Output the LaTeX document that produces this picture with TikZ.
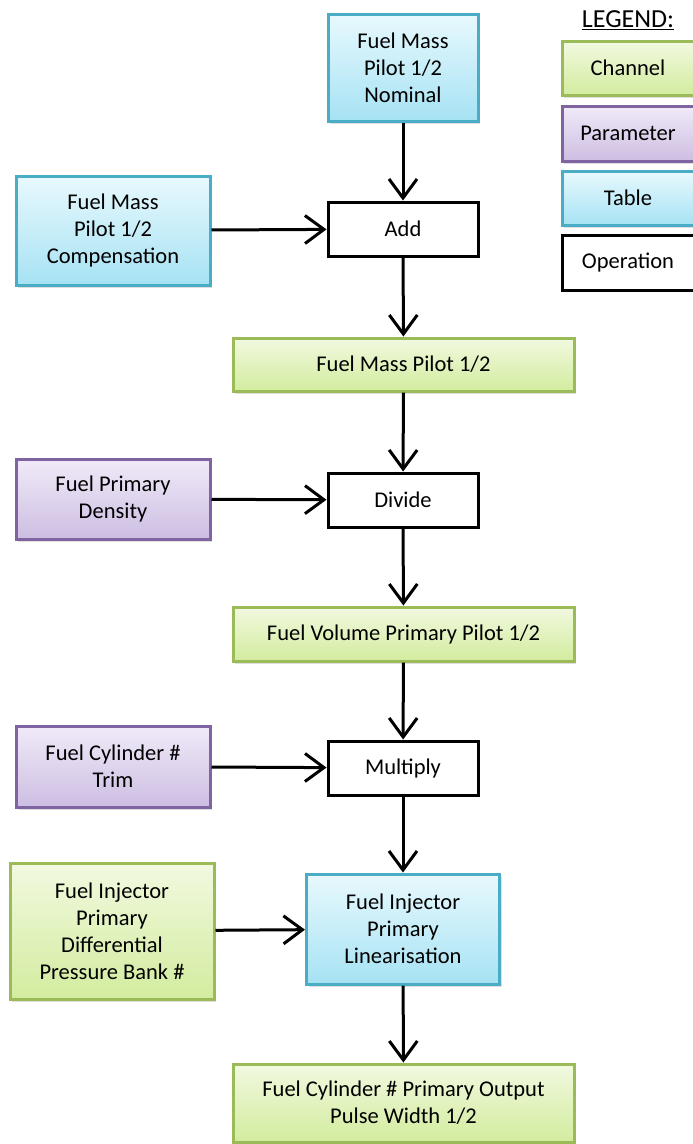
\documentclass[tikz,border=0pt]{standalone}
\usepackage{fontspec}
\setmainfont{Carlito}
\usetikzlibrary{arrows.meta, shadows}
\tikzset{>={Straight Barb[length=19pt,width=28pt,line width=3pt]}}
\tikzset{
  box/.style={rectangle, inner sep=0pt, align=center, line width=3pt,
    font=\fontsize{22.5}{27}\selectfont},
  channel/.style={box, draw={rgb,255:red,155;green,187;blue,89},
    top color={rgb,255:red,242;green,249;blue,224}, bottom color={rgb,255:red,210;green,236;blue,158},
    drop shadow={opacity=0.25,shadow xshift=2pt,shadow yshift=-3pt}},
  param/.style={box, draw={rgb,255:red,128;green,100;blue,162},
    top color={rgb,255:red,240;green,234;blue,248}, bottom color={rgb,255:red,205;green,190;blue,226},
    drop shadow={opacity=0.25,shadow xshift=2pt,shadow yshift=-3pt}},
  table/.style={box, draw={rgb,255:red,75;green,172;blue,198},
    top color={rgb,255:red,232;green,249;blue,253}, bottom color={rgb,255:red,166;green,226;blue,244},
    drop shadow={opacity=0.25,shadow xshift=2pt,shadow yshift=-3pt}},
  oper/.style={box, draw=black, fill=white},
  flow/.style={->, line width=3pt}
}

\begin{document}
\begin{tikzpicture}[x=1pt,y=-1pt]
    \useasboundingbox (0,0) rectangle (693,1144);
    \node[table, minimum width=150pt, minimum height=107pt] (nominal) at (403,67.5) {Fuel Mass\\Pilot 1/2\\Nominal};
    \node[oper, minimum width=150pt, minimum height=54pt] (add) at (403,229) {Add};
    \node[table, minimum width=194pt, minimum height=109pt] (comp) at (113,230.5) {Fuel Mass\\Pilot 1/2\\Compensation};
    \node[channel, minimum width=341pt, minimum height=53pt] (fmp) at (403.5,364.5) {Fuel Mass Pilot 1/2};
    \node[oper, minimum width=150pt, minimum height=54pt] (divide) at (403,500) {Divide};
    \node[param, minimum width=194pt, minimum height=80pt] (density) at (113,499) {Fuel Primary\\Density};
    \node[channel, minimum width=341pt, minimum height=54pt] (fvp) at (403.5,634) {Fuel Volume Primary Pilot 1/2};
    \node[oper, minimum width=150pt, minimum height=54pt] (multiply) at (403,768) {Multiply};
    \node[param, minimum width=194pt, minimum height=81pt] (trim) at (113,766.5) {Fuel Cylinder \#\\Trim};
    \node[table, minimum width=193pt, minimum height=110pt] (lin) at (403,929) {Fuel Injector\\Primary\\Linearisation};
    \node[channel, minimum width=204pt, minimum height=136pt] (pressure) at (112,931) {Fuel Injector\\Primary\\Differential\\Pressure Bank \#};
    \node[channel, minimum width=341pt, minimum height=78pt] (output) at (403.5,1103) {Fuel Cylinder \# Primary Output\\Pulse Width 1/2};
    \draw[flow] (nominal) -- (add);
    \draw[flow] (comp) -- (add);
    \draw[flow] (add) -- (fmp);
    \draw[flow] (fmp) -- (divide);
    \draw[flow] (density) -- (divide);
    \draw[flow] (divide) -- (fvp);
    \draw[flow] (fvp) -- (multiply);
    \draw[flow] (trim) -- (multiply);
    \draw[flow] (multiply) -- (lin);
    \draw[flow] (pressure) -- (lin);
    \draw[flow] (lin) -- (output);
    \node[font=\fontsize{26}{30}\selectfont] (legend) at (628,20) {\underline{LEGEND:}};
    \node[channel, minimum width=132pt, minimum height=54pt] (lchannel) at (628,68) {Channel};
    \node[param, minimum width=132pt, minimum height=55pt] (lparam) at (628,133.5) {Parameter};
    \node[table, minimum width=132pt, minimum height=54pt] (ltable) at (628,198) {Table};
    \node[oper, minimum width=132pt, minimum height=55pt] (loper) at (628,263) {Operation};
\end{tikzpicture}
\end{document}
